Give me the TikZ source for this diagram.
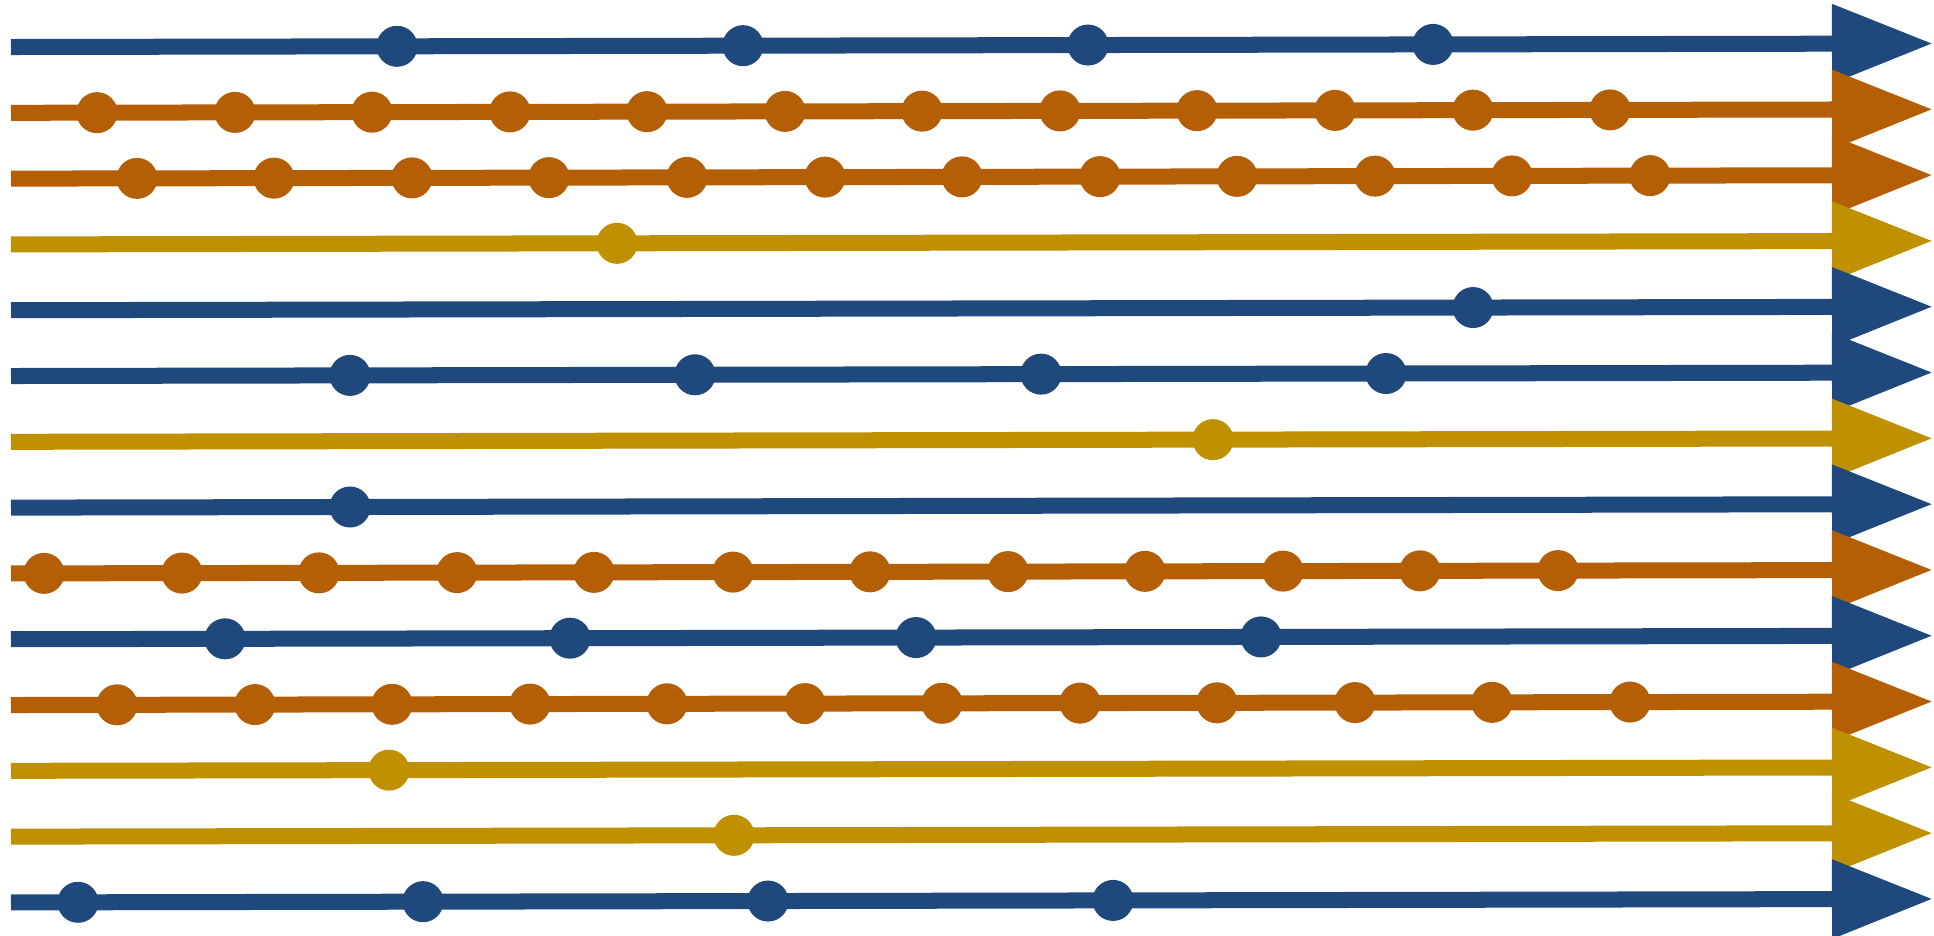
\documentclass[tikz,border=0pt]{standalone}
\usetikzlibrary{arrows.meta,calc}

\definecolor{lineblue}{RGB}{31,73,125}
\definecolor{lineorange}{RGB}{180,95,6}
\definecolor{linegold}{RGB}{191,144,0}

\begin{document}
\begin{tikzpicture}[
  x=0.01cm, y=-0.01cm,
  track/.style={line width=0.16cm, -{Triangle[length=1.01cm, width=0.75cm]}},
  bluetrack/.style={track, draw=lineblue, color=lineblue},
  orangetrack/.style={track, draw=lineorange, color=lineorange},
  goldtrack/.style={track, draw=linegold, color=linegold},
  dot/.style={circle, inner sep=0pt, minimum size=0.41cm, draw=none},
  bluedot/.style={dot, fill=lineblue},
  orangedot/.style={dot, fill=lineorange},
  golddot/.style={dot, fill=linegold}
]
  \useasboundingbox (0,0) rectangle (1934,935);

  % ── Row 1: blue, four dots ─────────────────────────────────────────────
  \coordinate (l1s) at (11, 47.0);  \coordinate (l1e) at (1933, 43.5);
  \draw[bluetrack] (l1s) -- (l1e);
  \foreach \x [count=\k] in {397,743,1088,1433}
    \node[bluedot] (l1d\k) at ($(l1s)!{(\x-11)/1922}!(l1e)$) {};

  % ── Row 2: orange, twelve dots ─────────────────────────────────────────
  \coordinate (l2s) at (11, 112.8); \coordinate (l2e) at (1933, 109.3);
  \draw[orangetrack] (l2s) -- (l2e);
  \foreach \x [count=\k] in {97,235,372,510,647,785,922,1060,1197,1335,1473,1610}
    \node[orangedot] (l2d\k) at ($(l2s)!{(\x-11)/1922}!(l2e)$) {};

  % ── Row 3: orange, twelve dots ─────────────────────────────────────────
  \coordinate (l3s) at (11, 178.6); \coordinate (l3e) at (1933, 175.1);
  \draw[orangetrack] (l3s) -- (l3e);
  \foreach \x [count=\k] in {137,274,412,549,687,825,962,1100,1237,1375,1512,1650}
    \node[orangedot] (l3d\k) at ($(l3s)!{(\x-11)/1922}!(l3e)$) {};

  % ── Row 4: gold, one dot ───────────────────────────────────────────────
  \coordinate (l4s) at (11, 244.4); \coordinate (l4e) at (1933, 240.9);
  \draw[goldtrack] (l4s) -- (l4e);
  \node[golddot] (l4d1) at ($(l4s)!{(617-11)/1922}!(l4e)$) {};

  % ── Row 5: blue, one dot ───────────────────────────────────────────────
  \coordinate (l5s) at (11, 310.2); \coordinate (l5e) at (1933, 306.7);
  \draw[bluetrack] (l5s) -- (l5e);
  \node[bluedot] (l5d1) at ($(l5s)!{(1473-11)/1922}!(l5e)$) {};

  % ── Row 6: blue, four dots ─────────────────────────────────────────────
  \coordinate (l6s) at (11, 376.0); \coordinate (l6e) at (1933, 372.5);
  \draw[bluetrack] (l6s) -- (l6e);
  \foreach \x [count=\k] in {350,695,1041,1386}
    \node[bluedot] (l6d\k) at ($(l6s)!{(\x-11)/1922}!(l6e)$) {};

  % ── Row 7: gold, one dot ───────────────────────────────────────────────
  \coordinate (l7s) at (11, 441.8); \coordinate (l7e) at (1933, 438.3);
  \draw[goldtrack] (l7s) -- (l7e);
  \node[golddot] (l7d1) at ($(l7s)!{(1213-11)/1922}!(l7e)$) {};

  % ── Row 8: blue, one dot ───────────────────────────────────────────────
  \coordinate (l8s) at (11, 507.6); \coordinate (l8e) at (1933, 504.1);
  \draw[bluetrack] (l8s) -- (l8e);
  \node[bluedot] (l8d1) at ($(l8s)!{(350-11)/1922}!(l8e)$) {};

  % ── Row 9: orange, twelve dots ─────────────────────────────────────────
  \coordinate (l9s) at (11, 573.4); \coordinate (l9e) at (1933, 569.9);
  \draw[orangetrack] (l9s) -- (l9e);
  \foreach \x [count=\k] in {44,182,319,457,594,733,870,1008,1145,1283,1420,1558}
    \node[orangedot] (l9d\k) at ($(l9s)!{(\x-11)/1922}!(l9e)$) {};

  % ── Row 10: blue, four dots ────────────────────────────────────────────
  \coordinate (l10s) at (11, 639.2); \coordinate (l10e) at (1933, 635.7);
  \draw[bluetrack] (l10s) -- (l10e);
  \foreach \x [count=\k] in {225,570,916,1261}
    \node[bluedot] (l10d\k) at ($(l10s)!{(\x-11)/1922}!(l10e)$) {};

  % ── Row 11: orange, twelve dots ────────────────────────────────────────
  \coordinate (l11s) at (11, 705.0); \coordinate (l11e) at (1933, 701.5);
  \draw[orangetrack] (l11s) -- (l11e);
  \foreach \x [count=\k] in {117,255,392,530,667,805,942,1080,1217,1355,1492,1630}
    \node[orangedot] (l11d\k) at ($(l11s)!{(\x-11)/1922}!(l11e)$) {};

  % ── Row 12: gold, one dot ──────────────────────────────────────────────
  \coordinate (l12s) at (11, 770.8); \coordinate (l12e) at (1933, 767.3);
  \draw[goldtrack] (l12s) -- (l12e);
  \node[golddot] (l12d1) at ($(l12s)!{(389-11)/1922}!(l12e)$) {};

  % ── Row 13: gold, one dot ──────────────────────────────────────────────
  \coordinate (l13s) at (11, 836.6); \coordinate (l13e) at (1933, 833.1);
  \draw[goldtrack] (l13s) -- (l13e);
  \node[golddot] (l13d1) at ($(l13s)!{(734-11)/1922}!(l13e)$) {};

  % ── Row 14: blue, four dots ────────────────────────────────────────────
  \coordinate (l14s) at (11, 902.4); \coordinate (l14e) at (1933, 898.9);
  \draw[bluetrack] (l14s) -- (l14e);
  \foreach \x [count=\k] in {78,423,768,1113}
    \node[bluedot] (l14d\k) at ($(l14s)!{(\x-11)/1922}!(l14e)$) {};
\end{tikzpicture}
\end{document}
